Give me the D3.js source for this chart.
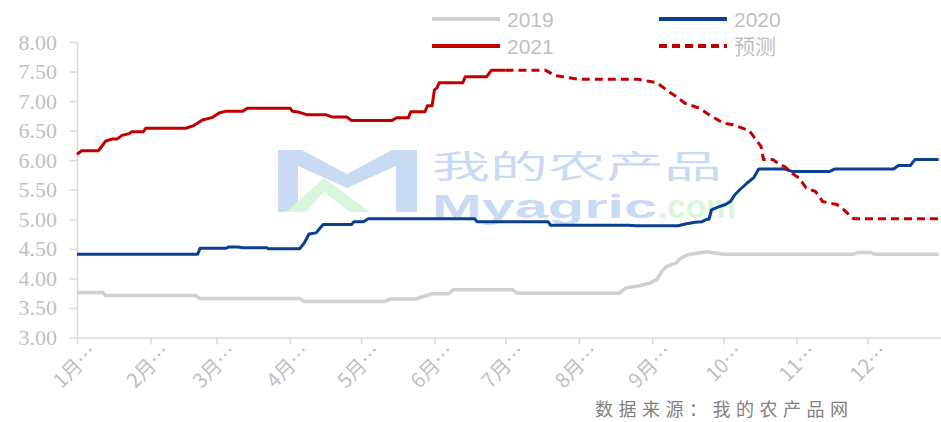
<!DOCTYPE html>
<html>
<head>
<meta charset="utf-8">
<script src="https://cdn.jsdelivr.net/npm/d3@7"></script>
<style>
  body { margin: 0; background: #fff; }
  #chart { width: 941px; height: 422px; }
</style>
</head>
<body>
<div id="chart"></div>
<script>
// values, one [month-day, price] pair per break in the line
const s2019 = [
  ["01-01", 3.76], ["01-12", 3.76], ["01-13", 3.71], ["02-20", 3.71], ["02-22", 3.66],
  ["04-05", 3.66], ["04-07", 3.61], ["05-11", 3.61], ["05-13", 3.65], ["05-24", 3.65],
  ["05-27", 3.69], ["05-31", 3.74], ["06-07", 3.74], ["06-09", 3.81], ["07-04", 3.81],
  ["07-06", 3.75], ["08-18", 3.75], ["08-21", 3.84], ["08-27", 3.88], ["08-31", 3.92],
  ["09-03", 3.98], ["09-05", 4.12], ["09-07", 4.20], ["09-11", 4.26], ["09-13", 4.34],
  ["09-16", 4.40], ["09-19", 4.42], ["09-24", 4.45], ["10-01", 4.41], ["11-25", 4.41],
  ["11-27", 4.44], ["12-02", 4.44], ["12-04", 4.41], ["12-31", 4.41]
]

const s2020 = [
  ["01-01", 4.41], ["02-21", 4.41], ["02-22", 4.51], ["03-05", 4.51], ["03-06", 4.53],
  ["03-10", 4.53], ["03-12", 4.52], ["03-22", 4.52], ["03-23", 4.50], ["04-05", 4.50],
  ["04-07", 4.60], ["04-09", 4.75], ["04-12", 4.77], ["04-13", 4.82], ["04-15", 4.91],
  ["04-27", 4.91], ["04-28", 4.96], ["05-02", 4.96], ["05-04", 5.01], ["06-18", 5.01],
  ["06-19", 4.96], ["07-19", 4.96], ["07-20", 4.90], ["08-22", 4.90], ["08-25", 4.89],
  ["09-12", 4.89], ["09-15", 4.92], ["09-19", 4.95], ["09-22", 4.96], ["09-24", 5.00],
  ["09-25", 5.00], ["09-26", 5.16], ["09-29", 5.21], ["10-02", 5.25], ["10-04", 5.30],
  ["10-06", 5.42], ["10-08", 5.50], ["10-11", 5.61], ["10-14", 5.71], ["10-16", 5.85],
  ["10-27", 5.85], ["10-30", 5.81], ["11-15", 5.81], ["11-17", 5.85], ["12-12", 5.85],
  ["12-14", 5.91], ["12-19", 5.91], ["12-21", 6.01], ["12-31", 6.01]
]

const s2021 = [
  ["01-01", 6.10], ["01-03", 6.16], ["01-10", 6.16], ["01-13", 6.32], ["01-16", 6.36],
  ["01-18", 6.36], ["01-20", 6.42], ["01-23", 6.45], ["01-24", 6.48], ["01-29", 6.48],
  ["01-30", 6.54], ["02-16", 6.54], ["02-19", 6.58], ["02-23", 6.68], ["02-27", 6.72],
  ["03-02", 6.80], ["03-05", 6.83], ["03-12", 6.83], ["03-14", 6.88], ["04-01", 6.88],
  ["04-02", 6.83], ["04-05", 6.81], ["04-08", 6.77], ["04-16", 6.77], ["04-19", 6.73],
  ["04-25", 6.73], ["04-27", 6.67], ["05-14", 6.67], ["05-16", 6.72], ["05-21", 6.72],
  ["05-22", 6.82], ["05-28", 6.82], ["05-29", 6.92], ["05-31", 6.92], ["06-01", 7.19],
  ["06-02", 7.22], ["06-03", 7.31], ["06-13", 7.31], ["06-14", 7.41], ["06-23", 7.41],
  ["06-25", 7.52], ["07-01", 7.52]
]

const forecast = [
  ["07-01", 7.52], ["07-18", 7.52], ["07-22", 7.43], ["07-27", 7.40], ["08-01", 7.37],
  ["08-26", 7.37], ["09-03", 7.31], ["09-07", 7.19], ["09-11", 7.08], ["09-15", 6.96],
  ["09-21", 6.88], ["09-25", 6.77], ["10-01", 6.63], ["10-05", 6.60], ["10-12", 6.50],
  ["10-15", 6.34], ["10-17", 6.23], ["10-18", 6.01], ["10-22", 6.01], ["10-25", 5.92],
  ["10-27", 5.89], ["10-30", 5.78], ["11-02", 5.70], ["11-05", 5.53], ["11-09", 5.47],
  ["11-12", 5.30], ["11-18", 5.25], ["11-21", 5.16], ["11-25", 5.01], ["12-31", 5.01]
]

const yTicks = [3, 3.5, 4, 4.5, 5, 5.5, 6, 6.5, 7, 7.5, 8]
const monthLabels = ["1月…", "2月…", "3月…", "4月…", "5月…", "6月…",
                     "7月…", "8月…", "9月…", "10…", "11…", "12…"]

const seriesInfo = [
  {name: "2019", data: s2019, color: "#d0d0d0", width: 3.5, dash: null},
  {name: "2020", data: s2020, color: "#0b3f8f", width: 3, dash: null},
  {name: "2021", data: s2021, color: "#c00000", width: 3, dash: null},
  {name: "预测", data: forecast, color: "#c00000", width: 3, dash: "8,5"}
]

const width = 941
const height = 422
const labelColor = "#bfbfbf"
const axisColor = "#d9d9d9"

const parseDay = d3.timeParse("%Y-%m-%d")
const toDate = md => parseDay("2021-" + md)

const x = d3.scaleTime()
            .domain([new Date(2021, 0, 1), new Date(2022, 0, 1)])
            .range([77, 941])

const y = d3.scaleLinear()
            .domain([3, 8])
            .range([337.5, 42])

const svg = d3.select("#chart")
              .append("svg")
                .attr("width", width)
                .attr("height", height)
                .style("font-family", "'Noto Sans CJK SC', 'Noto Sans', sans-serif")

// watermark of the source site, sits under the lines
const wm = svg.append("g").attr("transform", "translate(278,150)")
wm.append("path")
    .attr("d", "M0,0 L24,0 L69,24 L114,0 L139,0 L139,62 L118,62 L118,16 L69,38 L20,16 L20,62 L0,62 Z")
    .attr("fill", "#c9dbf3")
wm.append("path")
    .attr("d", "M8,62 L46,28 L92,62 L72,62 L46,42 L28,62 Z")
    .attr("fill", "#d9f6dc")
wm.append("text")
    .attr("x", 154).attr("y", 28)
    .attr("textLength", 290)
    .attr("lengthAdjust", "spacingAndGlyphs")
    .style("font-size", "32px")
    .attr("fill", "#c9dbf3")
    .text("我的农产品")
const wmUrl = wm.append("text")
    .style("font-family", "'Liberation Sans', sans-serif")
    .style("font-weight", "bold")
    .style("font-size", "33px")
wmUrl.append("tspan")
    .attr("x", 154).attr("y", 68)
    .attr("textLength", 225)
    .attr("lengthAdjust", "spacingAndGlyphs")
    .attr("fill", "#c9dbf3")
    .text("Myagric")
wmUrl.append("tspan")
    .attr("x", 380).attr("y", 68)
    .attr("textLength", 78)
    .attr("lengthAdjust", "spacingAndGlyphs")
    .attr("fill", "#d9f6dc")
    .text(".com")

// y axis
const yAxis = svg.append("g")
                 .attr("transform", "translate(77,0)")
                 .call(d3.axisLeft(y)
                         .tickValues(yTicks)
                         .tickFormat(d3.format(".2f"))
                         .tickSize(7)
                         .tickSizeOuter(0)
                         .tickPadding(13))
yAxis.select(".domain").attr("stroke", axisColor).attr("stroke-width", 1.5)
yAxis.selectAll(".tick line").attr("stroke", axisColor).attr("stroke-width", 1.5)
yAxis.selectAll(".tick text")
     .attr("fill", labelColor)
     .style("font-family", "'Liberation Serif', serif")
     .style("font-size", "22px")

// x axis
const monthStarts = d3.range(12).map(m => new Date(2021, m, 1))
const xAxis = svg.append("g")
                 .attr("transform", "translate(0,337.5)")
                 .call(d3.axisBottom(x)
                         .tickValues(monthStarts)
                         .tickSize(7)
                         .tickSizeOuter(0)
                         .tickFormat(""))
xAxis.select(".domain").attr("stroke", axisColor).attr("stroke-width", 1.5)
xAxis.selectAll(".tick line").attr("stroke", axisColor).attr("stroke-width", 1.5)

svg.append("g")
   .selectAll("text")
   .data(monthStarts)
   .enter()
   .append("text")
     .attr("transform", d => "translate(" + (x(d) + 21) + ",353) rotate(-45)")
     .attr("text-anchor", "end")
     .attr("fill", labelColor)
     .style("font-size", "20px")
     .text((d, i) => monthLabels[i])

// lines
const line = d3.line()
               .x(d => x(toDate(d[0])))
               .y(d => y(d[1]))

svg.append("g")
   .selectAll("path")
   .data(seriesInfo)
   .enter()
   .append("path")
     .attr("d", d => line(d.data))
     .attr("fill", "none")
     .attr("stroke", d => d.color)
     .attr("stroke-width", d => d.width)
     .attr("stroke-dasharray", d => d.dash)
     .attr("stroke-linejoin", "round")

// legend, two columns by two rows
const legend = svg.append("g")
                  .selectAll("g")
                  .data(seriesInfo)
                  .enter()
                  .append("g")
                    .attr("transform", (d, i) => "translate(" + (432 + (i % 2) * 227) + "," + (19 + Math.floor(i / 2) * 27) + ")")

legend.append("line")
        .attr("x1", 0).attr("x2", 68)
        .attr("stroke", d => d.color)
        .attr("stroke-width", 4)
        .attr("stroke-dasharray", d => d.dash)

legend.append("text")
        .attr("x", 75)
        .attr("dy", "0.36em")
        .attr("fill", labelColor)
        .style("font-family", "'Liberation Sans', 'Noto Sans CJK SC', sans-serif")
        .style("font-size", "21px")
        .text(d => d.name)

// source note
svg.append("text")
   .attr("x", 595)
   .attr("y", 416)
   .attr("fill", "#808080")
   .style("font-size", "18px")
   .style("letter-spacing", "5.5px")
   .text("数据来源：我的农产品网")
</script>
</body>
</html>
